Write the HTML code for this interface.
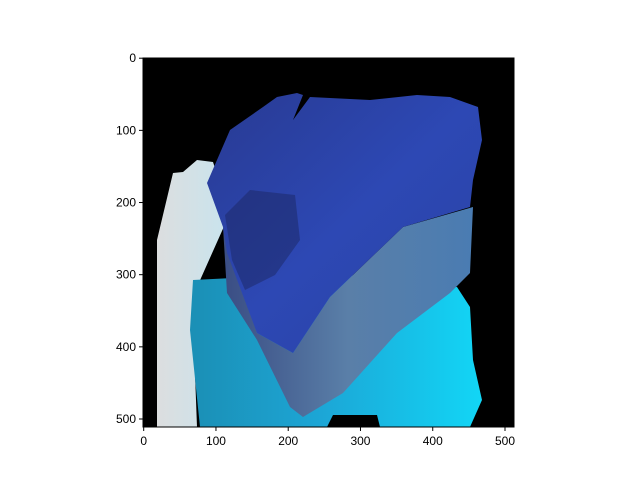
<!DOCTYPE html>
<html><head><meta charset="utf-8"><style>
body{margin:0;background:#fff;}
svg text{font-family:"Liberation Sans","DejaVu Sans",sans-serif;font-size:12px;fill:#000;}
</style></head><body>
<svg width="640" height="480">
<defs>
<linearGradient id="cy" x1="0" y1="0" x2="1" y2="0"><stop offset="0" stop-color="#1b8fb5"/><stop offset="0.45" stop-color="#1ca6d6"/><stop offset="1" stop-color="#12d6f6"/></linearGradient>
<linearGradient id="pl" x1="0" y1="0" x2="1" y2="0"><stop offset="0" stop-color="#dcdedf"/><stop offset="1" stop-color="#c8e4ee"/></linearGradient>
<linearGradient id="tp" x1="0" y1="0" x2="1" y2="1"><stop offset="0" stop-color="#283a92"/><stop offset="0.5" stop-color="#2d48b4"/><stop offset="1" stop-color="#2a42a4"/></linearGradient>
<linearGradient id="sd" x1="0" y1="0" x2="1" y2="0"><stop offset="0" stop-color="#3a4d84"/><stop offset="0.5" stop-color="#5a7fa8"/><stop offset="1" stop-color="#4a7cb2"/></linearGradient>
</defs>
<rect x="143" y="58" width="371" height="369" fill="#000"/>
<polygon fill="url(#pl)" points="157,427 157,240 173,173 183,172 197,160 213,162 230,213 197,287 193,320 197,427"/>
<polygon fill="url(#cy)" points="193,280 330,273 457,287 470,307 473,360 482,400 470,427 380,427 377,415 333,415 327,427 200,427 190,330"/>
<polygon fill="url(#sd)" points="223,227 227,293 257,340 290,407 303,417 343,393 397,333 450,293 470,273 473,207 403,227 330,297 293,353 257,333"/>
<polygon fill="url(#tp)" points="207,183 230,130 263,107 277,97 297,93 303,95 293,120 310,97 370,100 417,95 450,97 478,107 482,140 473,180 470,207 403,227 330,297 293,353 257,333 227,253 223,227"/>
<polygon fill="#1e2a6a" opacity="0.55" points="225,215 250,190 295,195 300,240 275,275 245,290 232,260"/>
<rect x="143" y="58" width="371" height="369" fill="none" stroke="#000" stroke-width="1"/>
<g id="ticks"></g>
</svg>
<script>
const xTicks=[0,100,200,300,400,500];
const yTicks=[0,100,200,300,400,500];
const g=document.getElementById('ticks');
const ns='http://www.w3.org/2000/svg';
const sx=v=>143.7+v*(505-143.7)/500;
const sy=v=>58.2+v*(419-58.2)/500;
xTicks.forEach(t=>{
 const l=document.createElementNS(ns,'line');
 l.setAttribute('x1',sx(t));l.setAttribute('x2',sx(t));l.setAttribute('y1',427);l.setAttribute('y2',431);l.setAttribute('stroke','#000');
 
 
 g.appendChild(l);
 const tx=document.createElementNS(ns,'text');
 tx.setAttribute('x',sx(t));tx.setAttribute('y',445);tx.setAttribute('text-anchor','middle');tx.textContent=t;
 
 
 g.appendChild(tx);
});
yTicks.forEach(t=>{
 const l=document.createElementNS(ns,'line');
 l.setAttribute('x1',139);l.setAttribute('x2',143);l.setAttribute('y1',sy(t));l.setAttribute('y2',sy(t));l.setAttribute('stroke','#000');
 
 
 g.appendChild(l);
 const tx=document.createElementNS(ns,'text');
 tx.setAttribute('x',136);tx.setAttribute('y',sy(t)+4);tx.setAttribute('text-anchor','end');tx.textContent=t;
 
 
 g.appendChild(tx);
});
</script>
</body></html>
